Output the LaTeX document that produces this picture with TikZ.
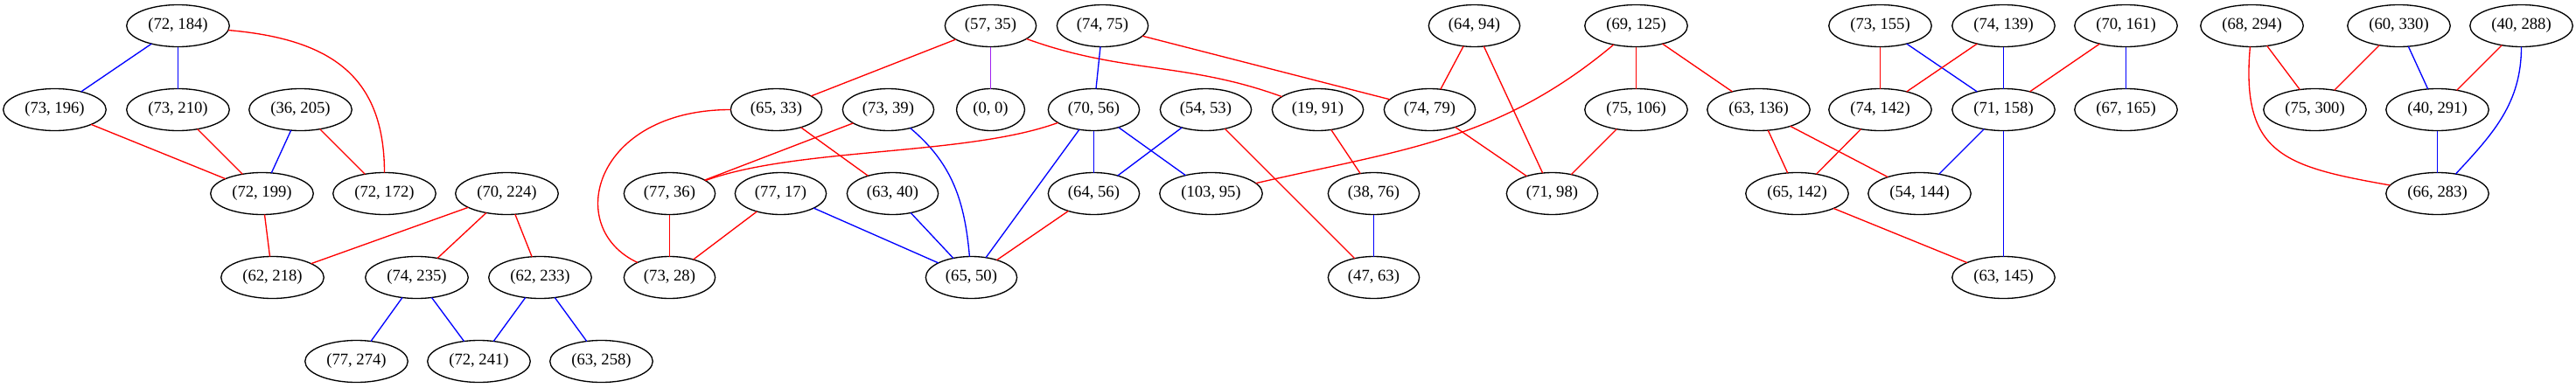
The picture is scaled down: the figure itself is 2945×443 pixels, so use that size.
\documentclass[tikz,border=0pt]{standalone}
\usepackage{fontspec}
\setmainfont{Liberation Serif}
\usepackage{tkz-graph}
\usetikzlibrary{shapes.geometric}
\definecolor{edgePurple}{HTML}{A020F0}

\begin{document}
\begin{tikzpicture}[x = 0.75pt, y = -0.75pt]
\tikzstyle{VertexStyle} = []
\tikzstyle{EdgeStyle} = [line width = 1pt]
\tikzstyle{LabelStyle} = [fill = none]
\tikzstyle{pairStyle} = [shape = ellipse, minimum height = 36pt, inner xsep = 5.5pt, inner ysep = 0pt, line width = 1pt, draw, font = \fontsize{14}{16}\selectfont]
\useasboundingbox (-0.5, -0.5) rectangle (2944.5, 442.5);
\Vertex[style = pairStyle, x = 203, y = 29, L = {(72, 184)}]{v0}
\Vertex[style = pairStyle, x = 62, y = 125, L = {(73, 196)}]{v1}
\Vertex[style = pairStyle, x = 203, y = 125, L = {(73, 210)}]{v2}
\Vertex[style = pairStyle, x = 343, y = 125, L = {(36, 205)}]{v3}
\Vertex[style = pairStyle, x = 299, y = 221, L = {(72, 199)}]{v4}
\Vertex[style = pairStyle, x = 439, y = 221, L = {(72, 172)}]{v5}
\Vertex[style = pairStyle, x = 579, y = 221, L = {(70, 224)}]{v6}
\Vertex[style = pairStyle, x = 311, y = 317, L = {(62, 218)}]{v7}
\Vertex[style = pairStyle, x = 476, y = 317, L = {(74, 235)}]{v8}
\Vertex[style = pairStyle, x = 617, y = 317, L = {(62, 233)}]{v9}
\Vertex[style = pairStyle, x = 407, y = 413, L = {(77, 274)}]{v10}
\Vertex[style = pairStyle, x = 547, y = 413, L = {(72, 241)}]{v11}
\Vertex[style = pairStyle, x = 687, y = 413, L = {(63, 258)}]{v12}
\Vertex[style = pairStyle, x = 1132, y = 29, L = {(57, 35)}]{v13}
\Vertex[style = pairStyle, x = 1260, y = 29, L = {(74, 75)}]{v14}
\Vertex[style = pairStyle, x = 887, y = 125, L = {(65, 33)}]{v15}
\Vertex[style = pairStyle, x = 1015, y = 125, L = {(73, 39)}]{v16}
\Vertex[style = pairStyle, x = 1132, y = 125, L = {(0, 0)}]{v17}
\Vertex[style = pairStyle, x = 1250, y = 125, L = {(70, 56)}]{v18}
\Vertex[style = pairStyle, x = 1378, y = 125, L = {(54, 53)}]{v19}
\Vertex[style = pairStyle, x = 765, y = 221, L = {(77, 36)}]{v20}
\Vertex[style = pairStyle, x = 892, y = 221, L = {(77, 17)}]{v21}
\Vertex[style = pairStyle, x = 1020, y = 221, L = {(63, 40)}]{v22}
\Vertex[style = pairStyle, x = 1250, y = 221, L = {(64, 56)}]{v23}
\Vertex[style = pairStyle, x = 1384, y = 221, L = {(103, 95)}]{v24}
\Vertex[style = pairStyle, x = 765, y = 317, L = {(73, 28)}]{v25}
\Vertex[style = pairStyle, x = 1110, y = 317, L = {(65, 50)}]{v26}
\Vertex[style = pairStyle, x = 1685, y = 29, L = {(64, 94)}]{v27}
\Vertex[style = pairStyle, x = 1870, y = 29, L = {(69, 125)}]{v28}
\Vertex[style = pairStyle, x = 1506, y = 125, L = {(19, 91)}]{v29}
\Vertex[style = pairStyle, x = 1634, y = 125, L = {(74, 79)}]{v30}
\Vertex[style = pairStyle, x = 1870, y = 125, L = {(75, 106)}]{v31}
\Vertex[style = pairStyle, x = 1570, y = 221, L = {(38, 76)}]{v32}
\Vertex[style = pairStyle, x = 1774, y = 221, L = {(71, 98)}]{v33}
\Vertex[style = pairStyle, x = 1570, y = 317, L = {(47, 63)}]{v34}
\Vertex[style = pairStyle, x = 2149, y = 29, L = {(73, 155)}]{v35}
\Vertex[style = pairStyle, x = 2290, y = 29, L = {(74, 139)}]{v36}
\Vertex[style = pairStyle, x = 2430, y = 29, L = {(70, 161)}]{v37}
\Vertex[style = pairStyle, x = 2010, y = 125, L = {(63, 136)}]{v38}
\Vertex[style = pairStyle, x = 2149, y = 125, L = {(74, 142)}]{v39}
\Vertex[style = pairStyle, x = 2290, y = 125, L = {(71, 158)}]{v40}
\Vertex[style = pairStyle, x = 2430, y = 125, L = {(67, 165)}]{v41}
\Vertex[style = pairStyle, x = 2054, y = 221, L = {(65, 142)}]{v42}
\Vertex[style = pairStyle, x = 2194, y = 221, L = {(54, 144)}]{v43}
\Vertex[style = pairStyle, x = 2290, y = 317, L = {(63, 145)}]{v44}
\Vertex[style = pairStyle, x = 2574, y = 29, L = {(68, 294)}]{v45}
\Vertex[style = pairStyle, x = 2742, y = 29, L = {(60, 330)}]{v46}
\Vertex[style = pairStyle, x = 2882, y = 29, L = {(40, 288)}]{v47}
\Vertex[style = pairStyle, x = 2646, y = 125, L = {(75, 300)}]{v48}
\Vertex[style = pairStyle, x = 2786, y = 125, L = {(40, 291)}]{v49}
\Vertex[style = pairStyle, x = 2786, y = 221, L = {(66, 283)}]{v50}
\Edge[style = {blue}](v0)(v1)
\Edge[style = {blue}](v0)(v2)
\Edge[style = {red, out = -5, in = 90, looseness = 1.2}](v0)(v5)
\Edge[style = {red}](v1)(v4)
\Edge[style = {red}](v2)(v4)
\Edge[style = {blue}](v3)(v4)
\Edge[style = {red}](v3)(v5)
\Edge[style = {red}](v4)(v7)
\Edge[style = {red}](v6)(v7)
\Edge[style = {red}](v6)(v8)
\Edge[style = {red}](v6)(v9)
\Edge[style = {blue}](v8)(v10)
\Edge[style = {blue}](v8)(v11)
\Edge[style = {blue}](v9)(v11)
\Edge[style = {blue}](v9)(v12)
\Edge[style = {red}](v13)(v15)
\Edge[style = {edgePurple}](v13)(v17)
\Edge[style = {red, out = -20, in = 160}](v13)(v29)
\Edge[style = {blue}](v14)(v18)
\Edge[style = {red}](v14)(v30)
\Edge[style = {red, out = 180, in = 155, out distance = 117pt, in distance = 71pt}](v15)(v25)
\Edge[style = {red}](v15)(v22)
\Edge[style = {red}](v16)(v20)
\Edge[style = {blue, out = -40, in = 95}](v16)(v26)
\Edge[style = {red, out = 200, in = 20, looseness = 0.7}](v18)(v20)
\Edge[style = {blue}](v18)(v23)
\Edge[style = {blue}](v18)(v24)
\Edge[style = {blue}](v18)(v26)
\Edge[style = {blue}](v19)(v23)
\Edge[style = {red}](v19)(v34)
\Edge[style = {red}](v20)(v25)
\Edge[style = {red}](v21)(v25)
\Edge[style = {blue}](v21)(v26)
\Edge[style = {blue}](v22)(v26)
\Edge[style = {red}](v23)(v26)
\Edge[style = {red, out = 220, in = 13}](v28)(v24)
\Edge[style = {red}](v27)(v30)
\Edge[style = {red}](v27)(v33)
\Edge[style = {red}](v28)(v31)
\Edge[style = {red}](v28)(v38)
\Edge[style = {red}](v29)(v32)
\Edge[style = {red}](v30)(v33)
\Edge[style = {red}](v31)(v33)
\Edge[style = {blue}](v32)(v34)
\Edge[style = {red}](v38)(v42)
\Edge[style = {red}](v38)(v43)
\Edge[style = {red}](v35)(v39)
\Edge[style = {blue}](v35)(v40)
\Edge[style = {red}](v39)(v42)
\Edge[style = {red}](v42)(v44)
\Edge[style = {red}](v36)(v39)
\Edge[style = {blue}](v36)(v40)
\Edge[style = {red}](v37)(v40)
\Edge[style = {blue}](v37)(v41)
\Edge[style = {blue}](v40)(v43)
\Edge[style = {blue}](v40)(v44)
\Edge[style = {red}](v45)(v48)
\Edge[style = {red, out = 265, in = 170, looseness = 1.4}](v45)(v50)
\Edge[style = {red}](v46)(v48)
\Edge[style = {blue}](v46)(v49)
\Edge[style = {red}](v47)(v49)
\Edge[style = {blue, out = -90, in = 47}](v47)(v50)
\Edge[style = {blue}](v49)(v50)
\end{tikzpicture}
\end{document}
